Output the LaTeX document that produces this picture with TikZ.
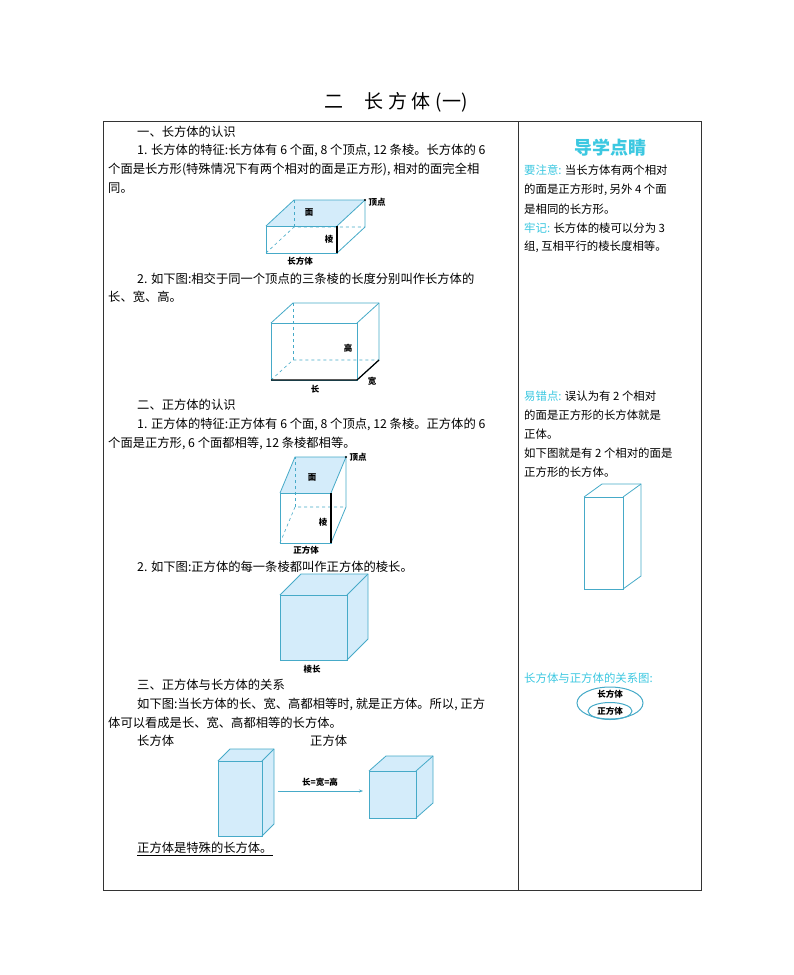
\documentclass[tikz,border=0pt]{standalone}
\usepackage{fontspec}
\setmainfont{Noto Sans CJK SC}
\usetikzlibrary{arrows.meta}
\definecolor{edge}{RGB}{70,170,200}
\definecolor{face}{RGB}{212,236,250}
\definecolor{hl}{RGB}{60,200,225}
\tikzset{x=1pt,y=-1pt,
 txt/.style={anchor=west,inner sep=0pt,font=\fontsize{12.3}{14}\selectfont},
 rtxt/.style={anchor=west,inner sep=0pt,font=\fontsize{11.4}{13}\selectfont},
 lbl/.style={inner sep=0pt,font=\fontsize{8.5}{9}\selectfont\bfseries},
 ed/.style={draw=edge,line width=0.8pt},
 hid/.style={draw=edge,dashed,line width=0.6pt}}
\newcommand{\boxfull}[6]{%
 \fill[face] (#1,#2)--(#1+#5,#2+#6)--(#3+#5,#2+#6)--(#3+#5,#4+#6)--(#3,#4)--(#1,#4)--cycle;
 \draw[ed] (#1,#2) rectangle (#3,#4);
 \draw[ed] (#1,#2)--(#1+#5,#2+#6)--(#3+#5,#2+#6)--(#3+#5,#4+#6)--(#3,#4);
 \draw[ed] (#3,#2)--(#3+#5,#2+#6);}
\newcommand{\boxwire}[6]{%
 \draw[ed] (#1,#2) rectangle (#3,#4);
 \draw[ed] (#1,#2)--(#1+#5,#2+#6)--(#3+#5,#2+#6)--(#3+#5,#4+#6)--(#3,#4);
 \draw[ed] (#3,#2)--(#3+#5,#2+#6);
 \draw[hid] (#1,#4)--(#1+#5,#4+#6)--(#3+#5,#4+#6);
 \draw[hid] (#1+#5,#4+#6)--(#1+#5,#2+#6);}
\newcommand{\boxtop}[6]{%
 \fill[face] (#1,#2)--(#1+#5,#2+#6)--(#3+#5,#2+#6)--(#3,#2)--cycle;
 \boxwire{#1}{#2}{#3}{#4}{#5}{#6}}
\begin{document}
\begin{tikzpicture}
\useasboundingbox (0,0) rectangle (794,975);
\fill[white] (0,0) rectangle (794,975);
\node[font=\fontsize{19}{22}\selectfont] (title) at (396,102) {二\hspace{1.1em}长\hspace{0.25em}方\hspace{0.25em}体\hspace{0.25em}(一)};
\draw[black!80,line width=0.8pt] (103,121) rectangle (701,890);
\draw[black!80,line width=0.8pt] (518,121) -- (518,890);
\node[txt] (t1) at (137,132) {一、长方体的认识};
\node[txt] (t2) at (137,150) {1. 长方体的特征:长方体有 6 个面, 8 个顶点, 12 条棱。长方体的 6};
\node[txt] (t3) at (108,169) {个面是长方形(特殊情况下有两个相对的面是正方形), 相对的面完全相};
\node[txt] (t4) at (108,188) {同。};
\boxtop{266}{226}{337}{253}{28}{-26}
\draw[black,line width=1.2pt] (337,226)--(337,253);
\fill (365,200) circle (1.2pt);
\node[lbl] (v1) at (377,202) {顶点};
\node[lbl] (f1) at (309,212) {面};
\node[lbl] (e1) at (329,239) {棱};
\node[lbl] (n1) at (300,261) {长方体};
\node[txt] (t5) at (137,279) {2. 如下图:相交于同一个顶点的三条棱的长度分别叫作长方体的};
\node[txt] (t6) at (108,297) {长、宽、高。};
\boxwire{271}{323}{357}{380}{22}{-20}
\draw[black,line width=1.2pt] (271,380)--(357,380)--(379,360);
\node[lbl] (h2) at (348,348) {高};
\node[lbl] (w2) at (372,381) {宽};
\node[lbl] (l2) at (315,389) {长};
\node[txt] (t7) at (137,405) {二、正方体的认识};
\node[txt] (t8) at (137,424) {1. 正方体的特征:正方体有 6 个面, 8 个顶点, 12 条棱。正方体的 6};
\node[txt] (t9) at (108,443) {个面是正方形, 6 个面都相等, 12 条棱都相等。};
\boxtop{280}{493}{331}{543}{15}{-36}
\draw[black,line width=1.2pt] (331,493)--(331,543);
\fill (346,457) circle (1.2pt);
\node[lbl] (v3) at (358,457) {顶点};
\node[lbl] (f3) at (312,477) {面};
\node[lbl] (e3) at (323,522) {棱};
\node[lbl] (n3) at (306,550) {正方体};
\node[txt] (t10) at (137,567) {2. 如下图:正方体的每一条棱都叫作正方体的棱长。};
\boxfull{280}{595}{347}{660}{21}{-21}
\node[lbl] (n4) at (312,669) {棱长};
\node[txt] (t11) at (137,685) {三、正方体与长方体的关系};
\node[txt] (t12) at (137,704) {如下图:当长方体的长、宽、高都相等时, 就是正方体。所以, 正方};
\node[txt] (t13) at (108,723) {体可以看成是长、宽、高都相等的长方体。};
\node[txt] (t14) at (137,741) {长方体};
\node[txt] (t15) at (310,741) {正方体};
\boxfull{218}{761}{262}{836}{12}{-12}
\boxfull{369}{771}{416}{818}{17}{-15}
\coordinate (a1) at (278,791);
\coordinate (a2) at (363,791);
\draw[edge,line width=0.8pt,-{Stealth[length=4pt]}] (a1) -- (a2);
\node[lbl] (eq) at (320,782) {长=宽=高};
\node[txt] (t16) at (137,849) {\underline{正方体是特殊的长方体。}};
\node[font=\fontsize{18}{20}\selectfont\bfseries,text=hl] (hd) at (610,148) {导学点睛};
\node[rtxt] (r1) at (524,170) {\textcolor{hl}{要注意:} 当长方体有两个相对};
\node[rtxt] (r2) at (524,190) {的面是正方形时, 另外 4 个面};
\node[rtxt] (r3) at (524,209) {是相同的长方形。};
\node[rtxt] (r4) at (524,228) {\textcolor{hl}{牢记:} 长方体的棱可以分为 3};
\node[rtxt] (r5) at (524,247) {组, 互相平行的棱长度相等。};
\node[rtxt] (r6) at (524,396) {\textcolor{hl}{易错点:} 误认为有 2 个相对};
\node[rtxt] (r7) at (524,415) {的面是正方形的长方体就是};
\node[rtxt] (r8) at (524,434) {正体。};
\node[rtxt] (r9) at (524,453) {如下图就是有 2 个相对的面是};
\node[rtxt] (r10) at (524,472) {正方形的长方体。};
\draw[ed] (584,497) rectangle (623,589);
\draw[ed] (584,497)--(602,484)--(641,484)--(641,576)--(623,589);
\draw[ed] (623,497)--(641,484);
\node[rtxt,text=hl] (r11) at (524,678) {长方体与正方体的关系图:};
\draw[edge,line width=1pt] (610,703) ellipse (33 and 16);
\draw[edge,line width=1pt] (610,711) ellipse (22 and 8.5);
\node[lbl] (c1) at (610,694) {长方体};
\node[lbl] (c2) at (610,711) {正方体};
\end{tikzpicture}
\end{document}
